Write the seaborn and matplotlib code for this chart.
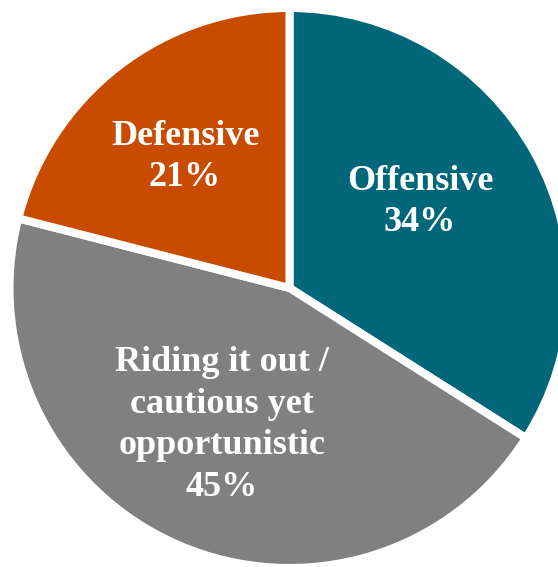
import matplotlib
matplotlib.use("Agg")
import matplotlib.pyplot as plt
import seaborn as sns

categories = ["Offensive", "Riding it out /\ncautious yet\nopportunistic", "Defensive"]
values = [34, 45, 21]
colors = ["#00677A", "#808080", "#C84B00"]

sns.set_theme(style="white")
plt.rcParams["font.family"] = ["Liberation Serif", "DejaVu Serif"]

fig = plt.figure(figsize=(5.58, 5.67), dpi=100)
ax = fig.add_axes([0, 0, 1, 1])

wedges, _ = ax.pie(values, colors=colors, startangle=90, counterclock=False,
                   radius=280, wedgeprops=dict(edgecolor="white", linewidth=5.8))
ax.set_xlim(-289.5, 268.5)
ax.set_ylim(-279, 288)
ax.set_aspect("equal")
ax.axis("off")

label_pos = [(130.5, 86), (-67.5, -137), (-104.5, 131)]
for cat, v, (x, y) in zip(categories, values, label_pos):
    ax.text(x, y, f"{cat}\n{v}%", ha="center", va="center", color="white",
            fontsize=26, fontweight="bold", linespacing=1.34)

fig.savefig("out.png", dpi=100)
